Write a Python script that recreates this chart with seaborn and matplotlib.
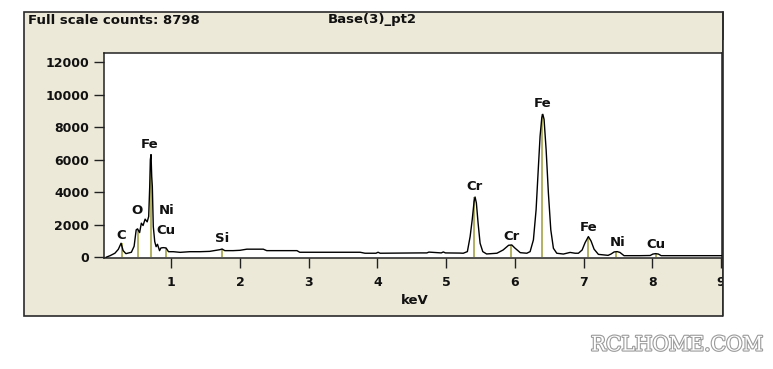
import matplotlib
matplotlib.use("Agg")
import matplotlib.pyplot as plt
import matplotlib.patheffects as pe
from matplotlib.patches import Rectangle
from matplotlib.lines import Line2D
import pandas as pd
import seaborn as sns

# spectrum trace (energy in keV, counts)
kev = [0.05, 0.11, 0.18, 0.23, 0.27, 0.30, 0.34, 0.42, 0.46, 0.49, 0.51, 0.54,
       0.565, 0.59, 0.62, 0.65, 0.672, 0.687, 0.696, 0.706, 0.716, 0.725, 0.739,
       0.76, 0.78, 0.80, 0.83, 0.85, 0.885, 0.925, 0.96, 1.03, 1.13, 1.27, 1.42,
       1.56, 1.71, 1.74, 1.78, 1.90, 2.00, 2.10, 2.34, 2.39, 2.83, 2.87, 3.75,
       3.82, 3.98, 4.01, 4.04, 4.62, 4.72, 4.75, 4.93, 4.96, 4.99, 5.20, 5.25,
       5.31, 5.35, 5.38, 5.408, 5.422, 5.441, 5.466, 5.495, 5.534, 5.59, 5.74,
       5.83, 5.91, 5.956, 6.00, 6.08, 6.175, 6.223, 6.271, 6.31, 6.344, 6.368,
       6.393, 6.408, 6.426, 6.456, 6.489, 6.524, 6.562, 6.611, 6.707, 6.805,
       6.878, 6.926, 6.98, 7.023, 7.071, 7.11, 7.154, 7.217, 7.358, 7.40, 7.446,
       7.49, 7.53, 7.59, 7.82, 7.97, 8.01, 8.05, 8.09, 8.13, 8.55, 9.04]
counts = [0, 100, 250, 490, 865, 410, 225, 310, 680, 1690, 1750, 1520,
          2100, 1955, 2350, 2180, 2510, 4360, 6010, 6320, 4980, 4360, 1890,
          965, 655, 800, 410, 575, 595, 575, 345, 345, 305, 345, 345,
          365, 470, 510, 410, 410, 430, 500, 500, 410, 410, 310, 310,
          250, 250, 310, 250, 270, 270, 320, 270, 330, 270, 260, 250,
          350, 1275, 2300, 3440, 3710, 3340, 2100, 865, 350, 205, 250,
          450, 740, 760, 575, 285, 250, 350, 1070, 2920, 5600, 7450,
          8590, 8800, 8490, 6630, 3955, 1690, 555, 250, 200, 300,
          250, 250, 450, 900, 1275, 1000, 500, 180, 120, 200, 330,
          350, 300, 100, 100, 110, 200, 225, 200, 100, 100, 100]

# element marker lines and labels
line_kev = [0.277, 0.51, 0.705, 0.93, 1.74, 5.41, 5.95, 6.40, 7.06, 7.48, 8.05]
line_height = [860, 1700, 6300, 575, 510, 3710, 760, 8800, 1275, 350, 225]
label_text = ["C", "O", "Fe", "Ni", "Cu", "Si", "Cr", "Cr", "Fe", "Fe", "Ni", "Cu"]
label_kev = [0.27, 0.50, 0.69, 0.93, 0.93, 1.74, 5.42, 5.95, 6.41, 7.07, 7.50, 8.06]
label_counts = [1360, 2860, 6930, 2860, 1680, 1130, 4330, 1300, 9460, 1860, 930, 800]

x_ticks = [1, 2, 3, 4, 5, 6, 7, 8, 9]
y_ticks = [0, 2000, 4000, 6000, 8000, 10000, 12000]

sns.set_style("ticks")
plt.rcParams["font.family"] = ["DejaVu Sans"]
plt.rcParams["font.weight"] = "bold"

W, H = 773, 369
fig = plt.figure(figsize=(W / 100, H / 100), dpi=100)
fig.patch.set_facecolor("white")

# beige panel behind everything
panel = Rectangle((24 / W, 1 - 316 / H), (722.5 - 24) / W, (316 - 12) / H,
                  transform=fig.transFigure, facecolor="#ECE9D8",
                  edgecolor="#2a2a2a", linewidth=1.2, zorder=-1)
fig.patches.append(panel)

ax = fig.add_axes([104.3 / W, 1 - 258 / H, (722.3 - 104.3) / W, (258 - 53.3) / H])
ax.set_facecolor("white")

df = pd.DataFrame({"keV": kev, "counts": counts})
ax.vlines(line_kev, 0, line_height, color="#ABAB55", linewidth=1.3, zorder=2)
sns.lineplot(data=df, x="keV", y="counts", estimator=None, sort=False,
             color="black", linewidth=1.0, ax=ax, zorder=3)

for t, xk, yc in zip(label_text, label_kev, label_counts):
    ax.text(xk, yc, t, ha="center", va="center", fontsize=9.5,
            fontweight="bold", color="#111111", zorder=4)

ax.set_xlim(0.026, 9.02)
ax.set_ylim(-43, 12554)
ax.set_xticks(x_ticks)
ax.set_yticks(y_ticks)
ax.set_xlabel("")
ax.set_ylabel("")
ax.tick_params(axis="both", direction="out", length=7, width=1, color="#222222",
               labelsize=9, labelcolor="#111111", pad=4)
ax.tick_params(axis="x", pad=6)
for lab in ax.get_xticklabels() + ax.get_yticklabels():
    lab.set_fontweight("bold")
for s in ax.spines.values():
    s.set_visible(True)
    s.set_color("#222222")
    s.set_linewidth(1.1)

fig.text(28 / W, 1 - 20 / H, "Full scale counts: 8798", ha="left", va="center",
         fontsize=9.5, fontweight="bold", color="#111111")
fig.text(328 / W, 1 - 20 / H, "Base(3)_pt2", ha="left", va="center",
         fontsize=9.5, fontweight="bold", color="#111111")
fig.text(415 / W, 1 - 301 / H, "keV", ha="center", va="center",
         fontsize=9.5, fontweight="bold", color="#111111")

# clip everything past the panel's right edge (cuts the "9")
cover = Rectangle((723.1 / W, 1 - 320 / H), 1 - 723.1 / W, (320 - 40) / H,
                  transform=fig.transFigure, facecolor="white",
                  edgecolor="none", zorder=5)
fig.patches.append(cover)
# redraw the panel's right border on top of the cover
fig.lines.append(Line2D([722.5 / W, 722.5 / W], [1 - 316 / H, 1 - 12 / H],
                        transform=fig.transFigure, color="#2a2a2a",
                        linewidth=1.2, zorder=6))

wm = fig.text(677 / W, 1 - 345 / H, "RCLHOME.COM", ha="center", va="center",
              fontsize=14.5, family="DejaVu Serif", fontweight="normal",
              color="white")
wm.set_path_effects([pe.Stroke(linewidth=1.6, foreground="#9a9a9a"), pe.Normal()])

fig.savefig("out.png", dpi=100)
